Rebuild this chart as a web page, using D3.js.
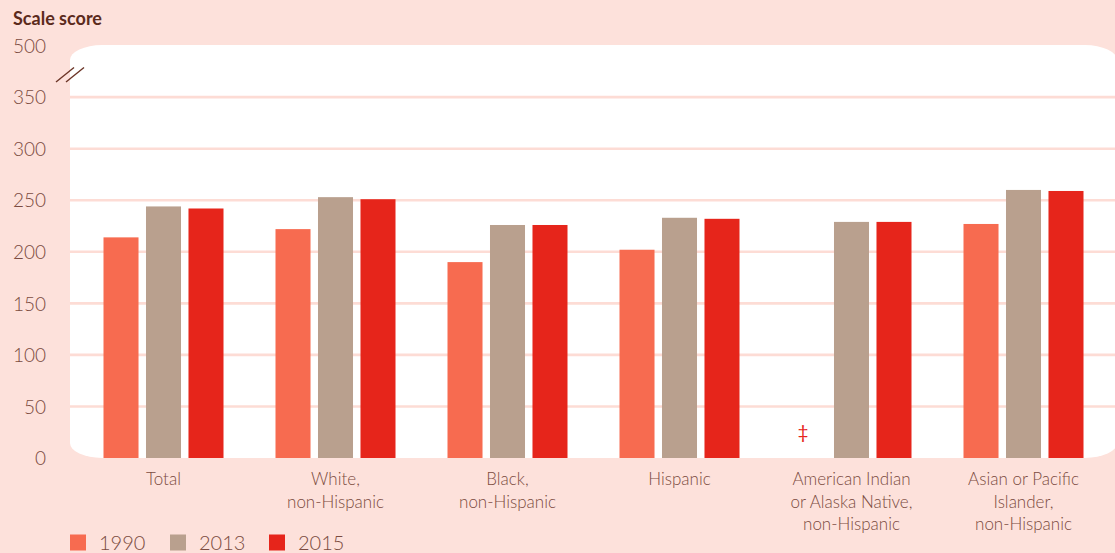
<!DOCTYPE html>
<html>
<head>
<meta charset="utf-8">
<script src="https://cdn.jsdelivr.net/npm/d3@7"></script>
<style>
  html, body { margin: 0; padding: 0; background: #fde1db; }
  svg { display: block; }
  text { font-family: "Lato", "Open Sans", sans-serif; }
</style>
</head>
<body>
<svg id="chart" width="1115" height="553"></svg>
<script>
// ---- data ----
const categories = [
  ["Total"],
  ["White,", "non-Hispanic"],
  ["Black,", "non-Hispanic"],
  ["Hispanic"],
  ["American Indian", "or Alaska Native,", "non-Hispanic"],
  ["Asian or Pacific", "Islander,", "non-Hispanic"]
];
const seriesNames = ["1990", "2013", "2015"];
const values1990 = [214, 222, 190, 202, null, 227];
const values2013 = [244, 253, 226, 233, 229, 260];
const values2015 = [242, 251, 226, 232, 229, 259];
const yTickValues = [0, 50, 100, 150, 200, 250, 300, 350, 400];
const yTickLabels = ["0", "50", "100", "150", "200", "250", "300", "350", "500"];
const missingNote = "‡";

// ---- styles ----
const colors = { "1990": "#f76b50", "2013": "#b9a08e", "2015": "#e6251b" };
const bg = "#fde1db";
const gridColor = "#fddcd5";
const textColor = "#7b4b40";
const titleColor = "#5b2a1c";

const svg = d3.select("#chart");
const W = 1115, H = 553;

const panel = { x0: 70, x1: 1117, y0: 45, y1: 458 };

const y = d3.scaleLinear().domain([0, 400]).range([458, 45.6]);
const x0 = d3.scaleBand().domain(d3.range(categories.length)).range([77.5, 1109.5]).paddingInner(0).paddingOuter(0);
const groupW = 120;
const x1 = d3.scaleBand().domain(seriesNames).range([0, groupW]).paddingInner(0.176);
const groupOffset = (x0.bandwidth() - groupW) / 2;

// background
svg.append("rect").attr("width", W).attr("height", H).attr("fill", bg);

// panel with rounded (elliptical) corners
const rx = 32, ry = 15;
svg.append("rect")
  .attr("x", panel.x0).attr("y", panel.y0)
  .attr("width", panel.x1 - panel.x0).attr("height", panel.y1 - panel.y0)
  .attr("rx", rx).attr("ry", ry)
  .attr("fill", "#ffffff");

// gridlines
svg.append("g").selectAll("line")
  .data(yTickValues.filter(v => v > 0 && v < 400))
  .join("line")
  .attr("x1", panel.x0).attr("x2", panel.x1)
  .attr("y1", d => y(d)).attr("y2", d => y(d))
  .attr("stroke", gridColor).attr("stroke-width", 2.6);

// y axis labels
const yAxis = d3.axisLeft(y).tickValues(yTickValues)
  .tickFormat((d, i) => yTickLabels[i]).tickSize(0).tickPadding(0);
const yg = svg.append("g").attr("transform", "translate(46,0)").call(yAxis);
yg.select(".domain").remove();
yg.selectAll("text")
  .attr("fill", textColor)
  .style("font-size", "19px")
  .style("font-weight", 300)
  .style("font-family", "Lato, 'Open Sans', sans-serif")
  .attr("dy", "0.35em");

// axis break mark
const brk = svg.append("g").attr("stroke", "#6b3426").attr("stroke-width", 1.4);
brk.append("line").attr("x1", 56).attr("y1", 82).attr("x2", 74).attr("y2", 67.5);
brk.append("line").attr("x1", 66).attr("y1", 82).attr("x2", 84).attr("y2", 67.5);

// title
svg.append("text").attr("x", 13).attr("y", 25)
  .attr("fill", titleColor)
  .style("font-size", "18px").style("font-weight", 700)
  .text("Scale score");

// bars
const seriesData = { "1990": values1990, "2013": values2013, "2015": values2015 };
const groups = svg.append("g").selectAll("g")
  .data(categories.map((c, i) => i))
  .join("g")
  .attr("transform", i => `translate(${x0(i) + groupOffset},0)`);

groups.selectAll("rect")
  .data(i => seriesNames.map(s => ({ s, v: seriesData[s][i] })).filter(d => d.v != null))
  .join("rect")
  .attr("x", d => x1(d.s))
  .attr("width", x1.bandwidth())
  .attr("y", d => y(d.v))
  .attr("height", d => y(0) - y(d.v))
  .attr("fill", d => colors[d.s]);

// missing marker
groups.selectAll("text.missing")
  .data(i => seriesNames.map(s => ({ s, v: seriesData[s][i] })).filter(d => d.v == null))
  .join("text")
  .attr("class", "missing")
  .attr("x", d => x1(d.s) + x1.bandwidth() / 2 - 6)
  .attr("y", 439)
  .attr("text-anchor", "middle")
  .attr("fill", colors["2015"])
  .style("font-size", "19px")
  .text(missingNote);

// category labels
const catG = svg.append("g");
categories.forEach((lines, i) => {
  const cx = x0(i) + x0.bandwidth() / 2;
  const t = catG.append("text")
    .attr("x", cx).attr("y", 485)
    .attr("text-anchor", "middle")
    .attr("fill", textColor)
    .style("font-size", "17px").style("font-weight", 300);
  lines.forEach((ln, k) => {
    t.append("tspan").attr("x", cx).attr("dy", k === 0 ? 0 : 22.5).text(ln);
  });
});

// legend
const legendX = [70, 170, 269];
const lg = svg.append("g");
seriesNames.forEach((s, i) => {
  lg.append("rect").attr("x", legendX[i]).attr("y", 534.5)
    .attr("width", 16).attr("height", 16).attr("fill", colors[s]);
  lg.append("text").attr("x", legendX[i] + 29).attr("y", 550)
    .attr("fill", textColor)
    .style("font-size", "20px").style("font-weight", 300)
    .text(s);
});
</script>
</body>
</html>
